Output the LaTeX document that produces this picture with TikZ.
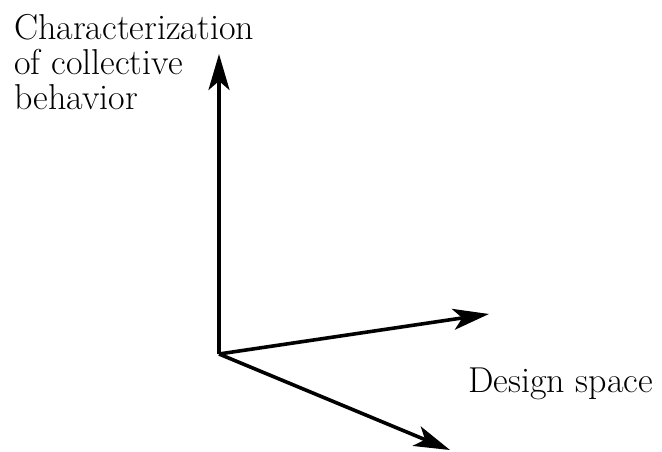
\documentclass[tikz,border=0pt]{standalone}
\usepackage{fontspec}
\setmainfont{Latin Modern Roman}
\usetikzlibrary{arrows.meta}
\begin{document}
\begin{tikzpicture}[x=1pt,y=-1pt,
  axis/.style={line width=3.6pt,-{Stealth[length=36pt,width=21pt,inset=9pt]}},
  lbl/.style={anchor=base west,inner sep=0pt,font=\rmfamily\fontsize{36}{36}\selectfont}]
\useasboundingbox (0,0) rectangle (662,452);
\coordinate (O) at (219,354);
\coordinate (Y) at (219,54);
\coordinate (X) at (489,314);
\coordinate (Z) at (450,450);
\draw[axis] (O) -- (Y);
\draw[axis] (O) -- (X);
\draw[axis] (O) -- (Z);
\node[lbl] (t1) at (14,40) {Characterization};
\node[lbl] (t2) at (14,75) {of collective};
\node[lbl] (t3) at (14,110) {behavior};
\node[lbl] (ds) at (468,392) {Design space};
\end{tikzpicture}
\end{document}
